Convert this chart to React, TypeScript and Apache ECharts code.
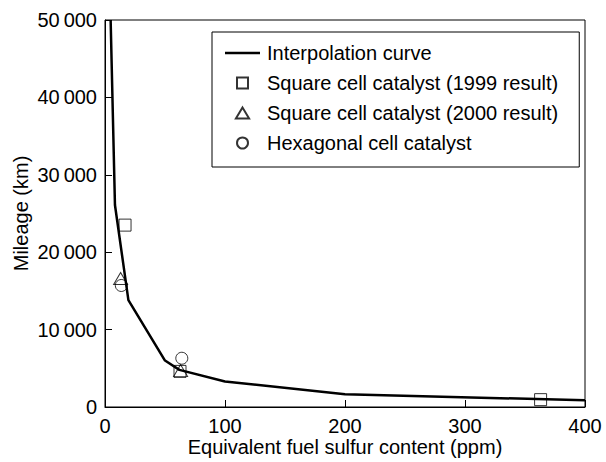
import React, { useEffect, useRef } from "react";
import * as echarts from "echarts";

const curveX = [4.7, 8.3, 19.5, 50, 62, 100, 200, 400];
const curveY = [50000, 26100, 13800, 6000, 4800, 3300, 1650, 870];
const sq1999X = [16.7, 62.5, 363];
const sq1999Y = [23500, 4600, 950];
const tri2000X = [13, 63];
const tri2000Y = [16600, 4700];
const hexX = [13.6, 64];
const hexY = [15700, 6300];
const xTicks = [0, 100, 200, 300, 400];
const yTicks = [0, 10000, 20000, 30000, 40000, 50000];

const FONT = "'Liberation Sans', Arial, sans-serif";

function zip(xs: number[], ys: number[]) {
  return xs.map((x, i) => [x, ys[i]]);
}

export default function App() {
  const ref = useRef<HTMLDivElement>(null);
  useEffect(() => {
    const chart = echarts.init(ref.current!, null, { renderer: "svg" });
    const markerStyle = { color: "transparent", borderColor: "#000", borderWidth: 1 };
    chart.setOption({
      animation: false,
      backgroundColor: "#fff",
      textStyle: { fontFamily: FONT },
      grid: {
        left: 105,
        right: 21,
        top: 20,
        bottom: 55,
        show: true,
        borderColor: "#000",
        borderWidth: 1,
        backgroundColor: "transparent",
      },
      legend: {
        orient: "vertical",
        left: 212,
        top: 32,
        padding: [11, 21, 14, 13],
        itemGap: 10,
        itemWidth: 35,
        itemHeight: 11,
        borderColor: "#000",
        borderWidth: 1,
        backgroundColor: "#fff",
        textStyle: { fontSize: 20, color: "#000", fontFamily: FONT, padding: [0, 0, 0, 2] },
        data: [
          { name: "Interpolation curve", icon: "path://M0,0L35,0L35,2.5L0,2.5Z", itemStyle: { color: "#000", borderWidth: 0 } },
          { name: "Square cell catalyst (1999 result)", icon: "path://M0,0L10,0L10,10L0,10Z" },
          { name: "Square cell catalyst (2000 result)", icon: "path://M6,0L12,10L0,10Z" },
          { name: "Hexagonal cell catalyst", icon: "circle" },
        ],
      },
      xAxis: {
        type: "value",
        min: xTicks[0],
        max: xTicks[xTicks.length - 1],
        interval: 100,
        name: "Equivalent fuel sulfur content (ppm)",
        nameLocation: "middle",
        nameGap: 30,
        nameMoveOverlap: false,
        nameTextStyle: { fontSize: 20, lineHeight: 20, color: "#000", fontFamily: FONT },
        axisLine: { show: true, lineStyle: { color: "#000", width: 1 } },
        axisTick: { show: true, inside: true, length: 7, lineStyle: { color: "#000" } },
        axisLabel: { fontSize: 20, lineHeight: 20, color: "#000", margin: 9, fontFamily: FONT },
        splitLine: { show: false },
      },
      yAxis: {
        type: "value",
        min: yTicks[0],
        max: yTicks[yTicks.length - 1],
        interval: 10000,
        name: "Mileage (km)",
        nameLocation: "middle",
        nameGap: 74,
        nameMoveOverlap: false,
        nameTextStyle: { fontSize: 20, color: "#000", fontFamily: FONT },
        axisLine: { show: true, lineStyle: { color: "#000", width: 1 } },
        axisTick: { show: true, inside: true, length: 7, lineStyle: { color: "#000" } },
        axisLabel: {
          fontSize: 20,
          color: "#000",
          margin: 8,
          fontFamily: FONT,
          formatter: (v: number) =>
            v >= 10000 ? Math.floor(v / 1000) + "\u2009" + String(v % 1000).padStart(3, "0") : String(v),
        },
        splitLine: { show: false },
      },
      series: [
        {
          name: "Interpolation curve",
          type: "line",
          data: zip(curveX, curveY),
          showSymbol: false,
          symbol: "none",
          clip: true,
          lineStyle: { color: "#000", width: 2.5 },
          itemStyle: { color: "#000" },
          z: 2,
        },
        {
          name: "Square cell catalyst (1999 result)",
          type: "scatter",
          data: zip(sq1999X, sq1999Y),
          symbol: "rect",
          symbolSize: 12,
          itemStyle: markerStyle,
          z: 3,
        },
        {
          name: "Square cell catalyst (2000 result)",
          type: "scatter",
          data: zip(tri2000X, tri2000Y),
          symbol: "triangle",
          symbolSize: [14, 12],
          itemStyle: markerStyle,
          z: 4,
        },
        {
          name: "Hexagonal cell catalyst",
          type: "scatter",
          data: zip(hexX, hexY),
          symbol: "circle",
          symbolSize: 12,
          itemStyle: markerStyle,
          z: 5,
        },
      ],
    });
    return () => chart.dispose();
  }, []);
  return <div ref={ref} style={{ width: 606, height: 462, position: "absolute", left: 0, top: 0 }} />;
}
